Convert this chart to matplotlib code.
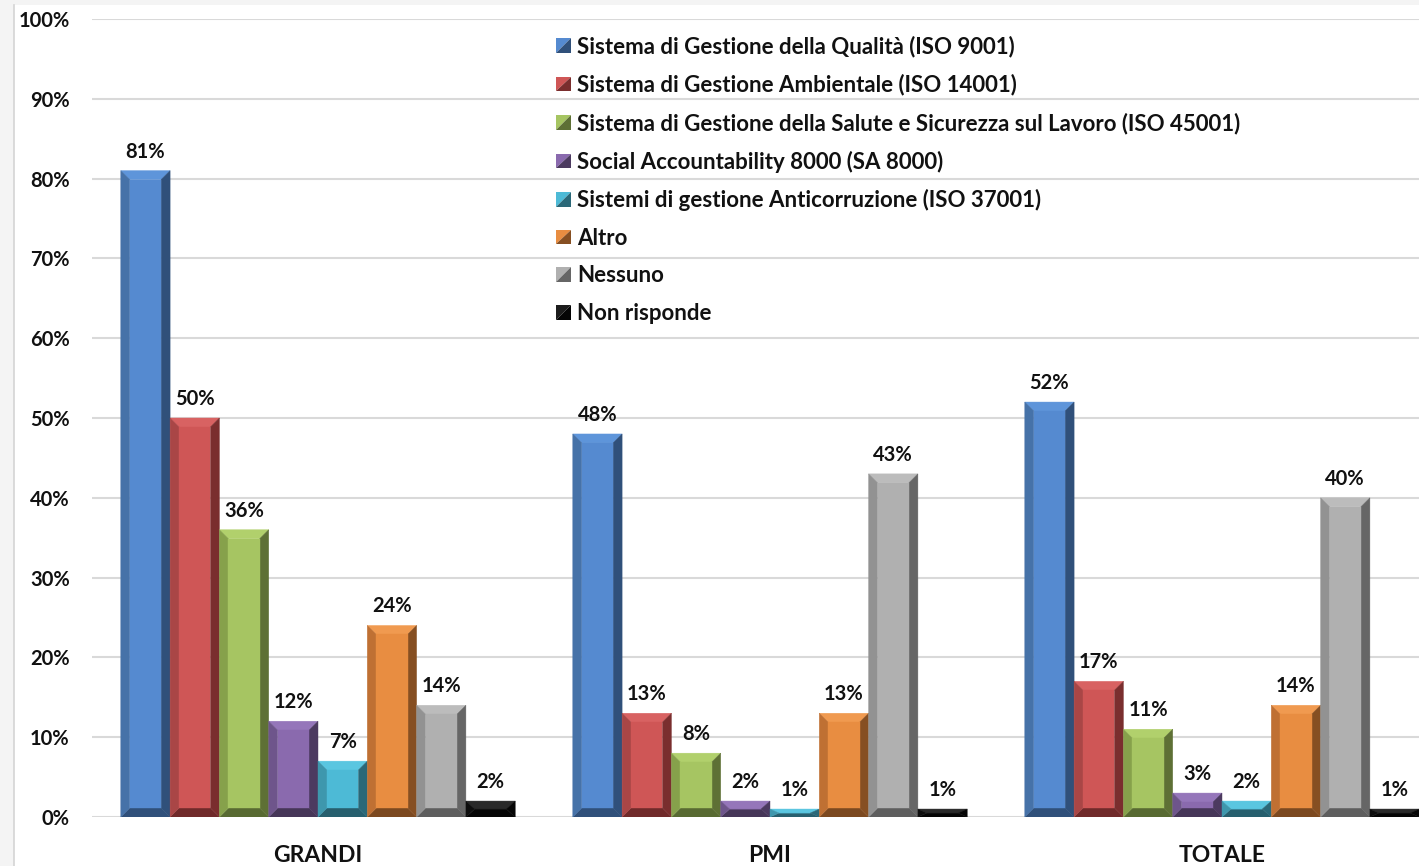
import matplotlib.pyplot as plt
from matplotlib.patches import Polygon, Rectangle
from matplotlib.lines import Line2D
from matplotlib.legend_handler import HandlerBase

plt.rcParams['font.family'] = ['Lato', 'DejaVu Sans']

categories = ["GRANDI", "PMI", "TOTALE"]
series = [
    "Sistema di Gestione della Qualità (ISO 9001)",
    "Sistema di Gestione Ambientale (ISO 14001)",
    "Sistema di Gestione della Salute e Sicurezza sul Lavoro (ISO 45001)",
    "Social Accountability 8000 (SA 8000)",
    "Sistemi di gestione Anticorruzione (ISO 37001)",
    "Altro",
    "Nessuno",
    "Non risponde",
]
grandi = [81, 50, 36, 12, 7, 24, 14, 2]
pmi = [48, 13, 8, 2, 1, 13, 43, 1]
totale = [52, 17, 11, 3, 2, 14, 40, 1]
yticks = list(range(0, 101, 10))

# face, left edge, right edge, top edge, bottom edge
shades = [
    ("#558ad0", "#4672a8", "#30507a", "#5e95da", "#30507a"),
    ("#cf5656", "#a94646", "#7a2e2e", "#d86262", "#702a2a"),
    ("#a6c562", "#86a14b", "#5e7035", "#b1d06c", "#586a32"),
    ("#8a6aae", "#6e558b", "#4c3a60", "#9576ba", "#463658"),
    ("#4dbad6", "#3e97ad", "#2a6878", "#5ac6e0", "#275f6e"),
    ("#e88d41", "#bf7033", "#864f22", "#f09a50", "#7c4920"),
    ("#b0b0b0", "#929292", "#666666", "#bcbcbc", "#5e5e5e"),
    ("#1c1c1c", "#0e0e0e", "#050505", "#2a2a2a", "#050505"),
]
TXT = "#111111"

W, H = 1419, 866
fig = plt.figure(figsize=(W / 100, H / 100), dpi=100, facecolor="#f4f4f4")
fig.add_artist(Rectangle((14 / W, 0), 1, (H - 5) / H, transform=fig.transFigure,
                         facecolor="white", edgecolor="none", zorder=0))
fig.add_artist(Line2D([13.5 / W] * 2, [0, (H - 5) / H], transform=fig.transFigure,
                      color="#d4d4d4", lw=1.2, zorder=1))

ax = fig.add_axes([92 / W, 49 / H, (1448 - 92) / W, 798 / H])
ax.set_facecolor("none")
ax.set_xlim(-0.5, 2.5)
ax.set_ylim(0, 100)

px_x = (1448 - 92) / 3.0   # pixels per category unit
px_y = 798 / 100.0         # pixels per percent
BEV = 9.0
bar_w = 49.3 / px_x


def bevel_bar(x0, x1, h, sh):
    face, left, right, top, bottom = sh
    bx = min(BEV / px_x, (x1 - x0) / 2)
    by = min(BEV / px_y, h / 2)
    parts = [
        ([(x0, 0), (x1, 0), (x1 - bx, by), (x0 + bx, by)], bottom),
        ([(x0, h), (x1, h), (x1 - bx, h - by), (x0 + bx, h - by)], top),
        ([(x0, 0), (x0 + bx, by), (x0 + bx, h - by), (x0, h)], left),
        ([(x1, 0), (x1 - bx, by), (x1 - bx, h - by), (x1, h)], right),
        ([(x0 + bx, by), (x1 - bx, by), (x1 - bx, h - by), (x0 + bx, h - by)], face),
    ]
    for pts, c in parts:
        ax.add_patch(Polygon(pts, closed=True, facecolor=c, edgecolor=c, lw=0.3, zorder=3))


groups = [grandi, pmi, totale]
for gi, vals in enumerate(groups):
    for si, v in enumerate(vals):
        xc = gi + (si - 3.5) * bar_w
        bevel_bar(xc - bar_w / 2, xc + bar_w / 2, v, shades[si])
        ax.annotate(f"{v}%", (xc, v), xytext=(0, 19), textcoords="offset pixels",
                    ha="center", va="center", fontsize=14.5, fontweight="bold",
                    color=TXT, zorder=4)

ax.set_yticks(yticks)
ax.set_yticklabels([f"{t}%" for t in yticks], fontsize=14.5, fontweight="bold", color=TXT)
ax.set_xticks(range(len(categories)))
ax.set_xticklabels(categories, fontsize=16.5, fontweight="bold", color=TXT)
ax.tick_params(axis="y", length=0, pad=16)
ax.tick_params(axis="x", length=0, pad=20)
ax.grid(axis="y", color="#d9d9d9", lw=1.5, zorder=0)
ax.set_axisbelow(True)
for s in ax.spines.values():
    s.set_visible(False)


class BevelSquare(HandlerBase):
    def create_artists(self, legend, orig_handle, xdescent, ydescent, width, height, fontsize, trans):
        face, dark = orig_handle.get_facecolor(), orig_handle.get_edgecolor()
        s = min(width, height)
        x0, y0 = -xdescent, -ydescent + (height - s) / 2
        up = Polygon([(x0, y0), (x0, y0 + s), (x0 + s, y0 + s)], closed=True,
                     facecolor=face, edgecolor="none", transform=trans)
        lo = Polygon([(x0, y0), (x0 + s, y0), (x0 + s, y0 + s)], closed=True,
                     facecolor=dark, edgecolor="none", transform=trans)
        return [up, lo]


handles = [Rectangle((0, 0), 1, 1, facecolor=sh[0], edgecolor=sh[2]) for sh in shades]
leg = fig.legend(handles, series, loc="upper left", bbox_to_anchor=(547 / W, 1 - 27 / H),
                 frameon=False, prop={"weight": "bold", "size": 16},
                 handler_map={Rectangle: BevelSquare()}, handlelength=0.66, handleheight=0.66,
                 handletextpad=0.3, labelspacing=0.745, borderaxespad=0)
for t in leg.get_texts():
    t.set_color(TXT)

fig.savefig("out.png", dpi=100, facecolor=fig.get_facecolor())
